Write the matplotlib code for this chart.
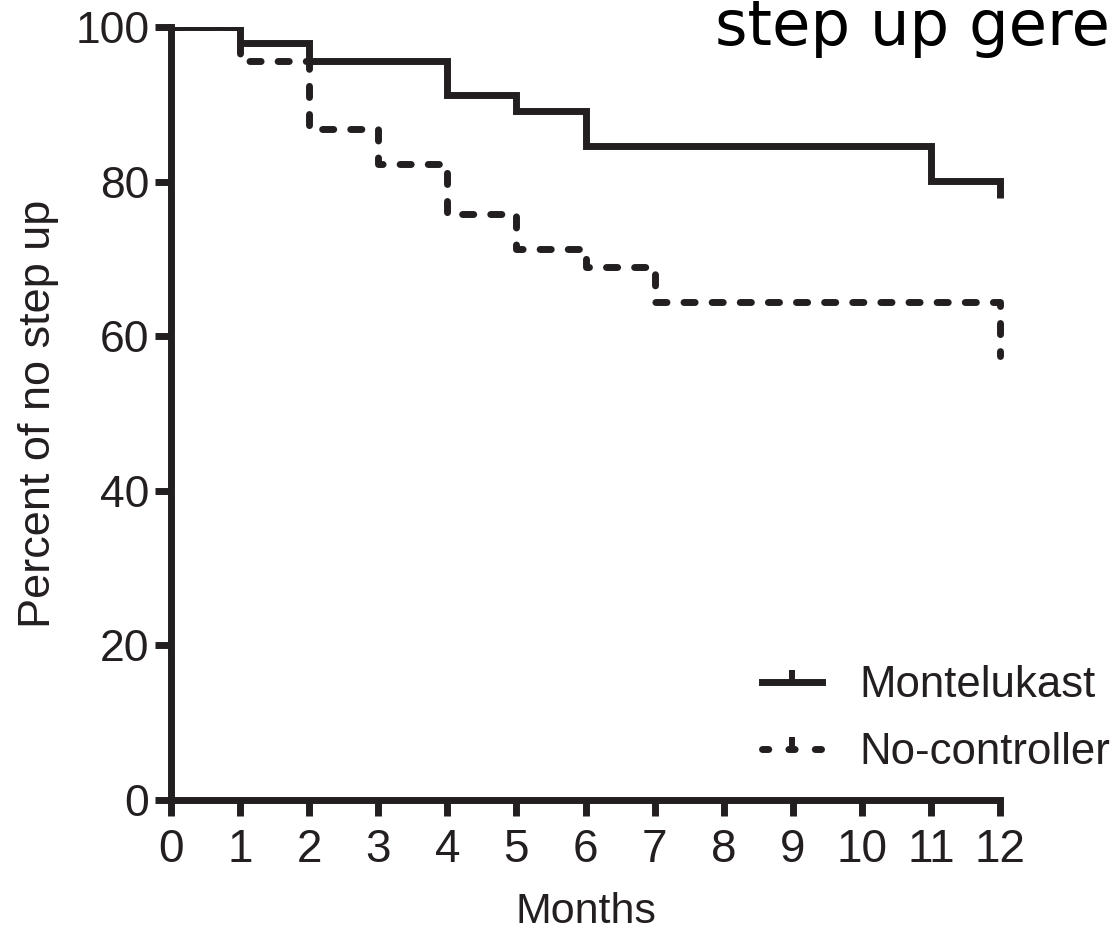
import matplotlib
matplotlib.use("Agg")
import matplotlib.pyplot as plt
from matplotlib.path import Path
from matplotlib.lines import Line2D
from matplotlib.patches import Rectangle

# Data
mont_t = [0, 1, 2, 4, 5, 6, 11, 12]
mont_s = [100, 97.9, 95.6, 91.2, 89.1, 84.6, 80.1, 77.9]
noc_t = [0, 1, 2, 3, 4, 5, 6, 7, 12]
noc_s = [100, 95.6, 86.8, 82.3, 75.8, 71.3, 69.0, 64.4, 57.5]
xticks = list(range(0, 13))
yticks = [0, 20, 40, 60, 80, 100]
labels = ["Montelukast", "No-controller"]

C = "#231f20"
LW = 5
plt.rcParams['font.family'] = ['Liberation Sans', 'DejaVu Sans']

fig = plt.figure(figsize=(11.19, 9.34), dpi=100)
ax = fig.add_axes([171/1119, 1-800/934, (1000-171)/1119, (800-27)/934])

clip = Rectangle((0, 0), 1.05, 1.0, transform=ax.transAxes, facecolor='none')
l1, = ax.plot(mont_t, mont_s, drawstyle='steps-post', color=C, lw=LW,
              solid_capstyle='butt', solid_joinstyle='miter')
l2, = ax.plot(noc_t, noc_s, drawstyle='steps-post', color=C, lw=LW,
              linestyle=(0, (1.6, 2.45)), dash_capstyle='round',
              dash_joinstyle='round')
for ln in (l1, l2):
    ln.set_clip_path(clip)

ax.set_xlim(0, 12)
ax.set_ylim(0, 100)
ax.set_xticks(xticks)
ax.set_yticks(yticks)
for s in ['top', 'right']:
    ax.spines[s].set_visible(False)
for s in ['left', 'bottom']:
    ax.spines[s].set_linewidth(5)
    ax.spines[s].set_color(C)
    ax.spines[s].set_capstyle('projecting')
ax.tick_params(axis='both', direction='out', length=11.5, width=5, color=C,
               labelcolor=C)
ax.tick_params(axis='y', labelsize=32, pad=4)
ax.tick_params(axis='x', labelsize=33, pad=9)

ax.set_xlabel("Months", fontsize=31, color=C, labelpad=14)
ax.set_ylabel("Percent of no step up", fontsize=32.5, color=C, labelpad=12)

# legend with censor-tick markers
tick = Path([(0, 0), (0, 1)], [Path.MOVETO, Path.LINETO])
h1 = Line2D([], [], color=C, lw=LW, marker=tick, markersize=17,
            markeredgewidth=4.3)
h2 = Line2D([], [], color=C, lw=LW, linestyle=(0, (0.9, 2.9)),
            dash_capstyle='round', marker=tick, markersize=17,
            markeredgewidth=4.3)
leg = fig.legend([h1, h2], labels, loc='upper left',
                 bbox_to_anchor=(762/1119, 1-665/934),
                 bbox_transform=fig.transFigure, borderpad=0,
                 borderaxespad=0, frameon=False, fontsize=31.5,
                 handlelength=1.38, handletextpad=0.85, labelspacing=0.6,
                 numpoints=1, labelcolor=C)

fig.text(715/1119, 1-45/934, "step up gere", fontsize=45,
         family='DejaVu Sans', color='black', ha='left', va='baseline')

fig.savefig("out.png", dpi=100)
